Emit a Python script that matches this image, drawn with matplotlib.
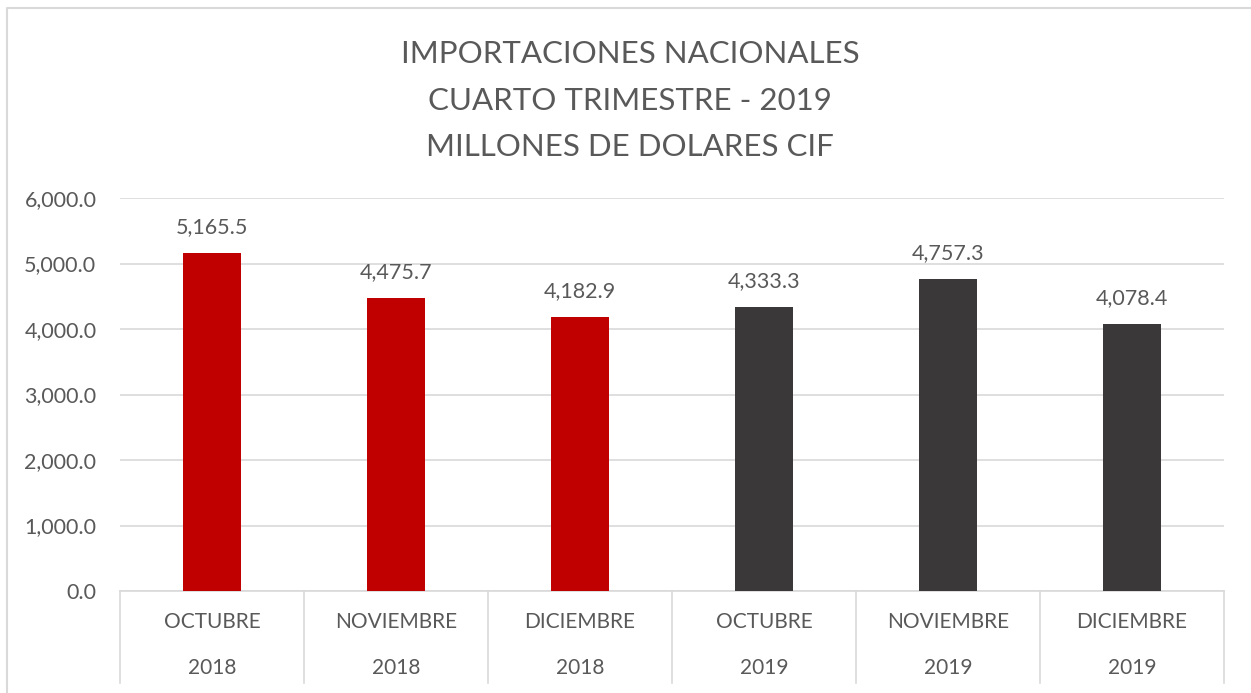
import matplotlib
matplotlib.use("Agg")
import matplotlib.pyplot as plt
from matplotlib.lines import Line2D
from matplotlib.transforms import blended_transform_factory

months = ["OCTUBRE", "NOVIEMBRE", "DICIEMBRE", "OCTUBRE", "NOVIEMBRE", "DICIEMBRE"]
years = ["2018", "2018", "2018", "2019", "2019", "2019"]
values = [5165.5, 4475.7, 4182.9, 4333.3, 4757.3, 4078.4]
colors = ["#C00000", "#C00000", "#C00000", "#3A3838", "#3A3838", "#3A3838"]
title_lines = ["IMPORTACIONES NACIONALES", "CUARTO TRIMESTRE - 2019", "MILLONES DE DOLARES CIF"]
yticks = [0, 1000, 2000, 3000, 4000, 5000, 6000]

plt.rcParams['font.family'] = ['Lato', 'DejaVu Sans']
TXT = "#595959"
GRID = "#D9D9D9"

W, H = 1251, 693
fig = plt.figure(figsize=(W / 100, H / 100), dpi=100)
fig.patch.set_facecolor("white")

# outer chart border (only top and left visible in crop)
fig.add_artist(Line2D([7 / W, 7 / W, 1.0], [0.0, 1 - 8 / H, 1 - 8 / H],
                      transform=fig.transFigure, color=GRID, lw=1.5))

x0, x1, y0, y1 = 120, 1224, 198, 591
ax = fig.add_axes([x0 / W, 1 - y1 / H, (x1 - x0) / W, (y1 - y0) / H])
xs = list(range(len(values)))
ax.bar(xs, values, width=0.315, color=colors, zorder=3)
ax.set_xlim(-0.5, len(values) - 0.5)
ax.set_ylim(0, 6000)
ax.set_yticks(yticks)
ax.set_yticklabels([f"{v:,.1f}" for v in yticks], color=TXT, fontsize=15.5)
ax.tick_params(axis='y', length=0, pad=17)
ax.set_xticks([])
ax.grid(axis='y', color=GRID, lw=1.2, zorder=0)
for s in ["top", "right", "left"]:
    ax.spines[s].set_visible(False)
ax.spines["bottom"].set_color(GRID)
ax.spines["bottom"].set_linewidth(1.2)

for x, v in zip(xs, values):
    ax.annotate(f"{v:,.1f}", (x, v), xytext=(0, 16), textcoords="offset pixels",
                ha="center", va="bottom", color=TXT, fontsize=15.5)

tr = blended_transform_factory(ax.transData, ax.transAxes)
depth = (683 - 591) / (y1 - y0)
for b in [i - 0.5 for i in range(len(values) + 1)]:
    ax.plot([b, b], [0, -depth], transform=tr, color=GRID, lw=1.2, clip_on=False)
for x, m, yr in zip(xs, months, years):
    ax.text(x, -(622 - 591) / (y1 - y0), m, transform=tr, ha="center", va="center",
            color=TXT, fontsize=15)
    ax.text(x, -(668 - 591) / (y1 - y0), yr, transform=tr, ha="center", va="center",
            color=TXT, fontsize=15)

for i, t in enumerate(title_lines):
    fig.text(630 / W, 1 - (54 + 46.5 * i) / H, t, ha="center", va="center",
             color=TXT, fontsize=22.5)

fig.savefig("out.png", dpi=100)
